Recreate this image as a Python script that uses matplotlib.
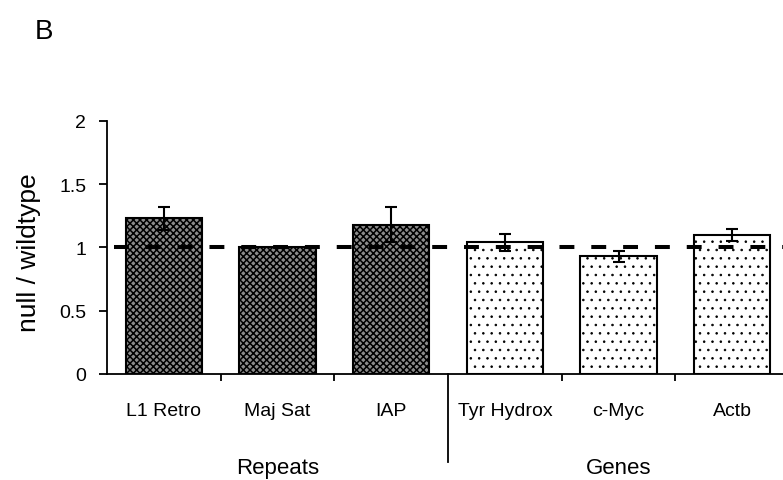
import matplotlib
matplotlib.use("Agg")
import matplotlib.pyplot as plt
import matplotlib.transforms as mtransforms
import numpy as np

plt.rcParams['font.family'] = ['Liberation Sans', 'DejaVu Sans']

categories = ["L1 Retro", "Maj Sat", "IAP", "Tyr Hydrox", "c-Myc", "Actb"]
values = [1.23, 1.00, 1.18, 1.04, 0.93, 1.10]
errors = [0.09, 0.0, 0.14, 0.065, 0.045, 0.05]
groups = ["Repeats", "Genes"]
group_of = [0, 0, 0, 1, 1, 1]
reference_level = 1.0
yticks = [0, 0.5, 1, 1.5, 2]
ytick_labels = ["0", "0.5", "1", "1.5", "2"]

fig = plt.figure(figsize=(7.83, 4.81), dpi=100)
ax = fig.add_axes([0.1367, 0.2204, 0.871, 0.526])

x = np.arange(len(categories))
hatches = ['xxxxx', '..']
faces = ['#8c8c8c', 'white']
hatch_lw = [1.1, 0.6]
for i in range(len(categories)):
    g = group_of[i]
    with plt.rc_context({'hatch.linewidth': hatch_lw[g]}):
        bars = ax.bar(x[i], values[i], width=0.67, facecolor=faces[g], edgecolor='black',
                      hatch=hatches[g], linewidth=1.5, zorder=2)
        for b in bars:
            if hasattr(b, 'set_hatch_linewidth'):
                b.set_hatch_linewidth(hatch_lw[g])
    if errors[i] > 0:
        ax.errorbar(x[i], values[i], yerr=errors[i], fmt='none', ecolor='black',
                    elinewidth=1.5, capsize=4, capthick=1.5, zorder=3)

ax.axhline(reference_level, color='black', lw=2.9, ls=(0, (3.7, 4.2)), zorder=4,
           xmin=0.01)

ax.set_xlim(-0.5, len(categories) - 0.5)
ax.set_ylim(0, 2)
ax.set_yticks(yticks)
ax.set_yticklabels(ytick_labels)
ax.tick_params(axis='y', direction='out', length=6, width=1.3, pad=9, labelsize=14)

ax.set_xticks(x)
ax.set_xticklabels(categories)
ax.tick_params(axis='x', which='major', length=0, pad=20, labelsize=14)
ax.set_xticks([0.5, 1.5, 3.5, 4.5], minor=True)
ax.tick_params(axis='x', which='minor', direction='out', length=5, width=1.3)

for s in ['top', 'right']:
    ax.spines[s].set_visible(False)
for s in ['left', 'bottom']:
    ax.spines[s].set_linewidth(1.3)

trans = mtransforms.blended_transform_factory(ax.transData, ax.transAxes)
ax.plot([2.5, 2.5], [0, -0.348], color='black', lw=1.3, transform=trans, clip_on=False)

for gi, gname in enumerate(groups):
    idx = [i for i in range(len(categories)) if group_of[i] == gi]
    ax.text(np.mean(x[idx]), -0.368, gname, transform=trans, ha='center', va='center',
            fontsize=16)

fig.text(29 / 783, 1 - 253 / 481, "null / wildtype", rotation=90, ha='center',
         va='center', fontsize=19)
fig.text(44 / 783, 1 - 32 / 481, "B", ha='center', va='center', fontsize=20)

fig.savefig("out.png", dpi=100)
